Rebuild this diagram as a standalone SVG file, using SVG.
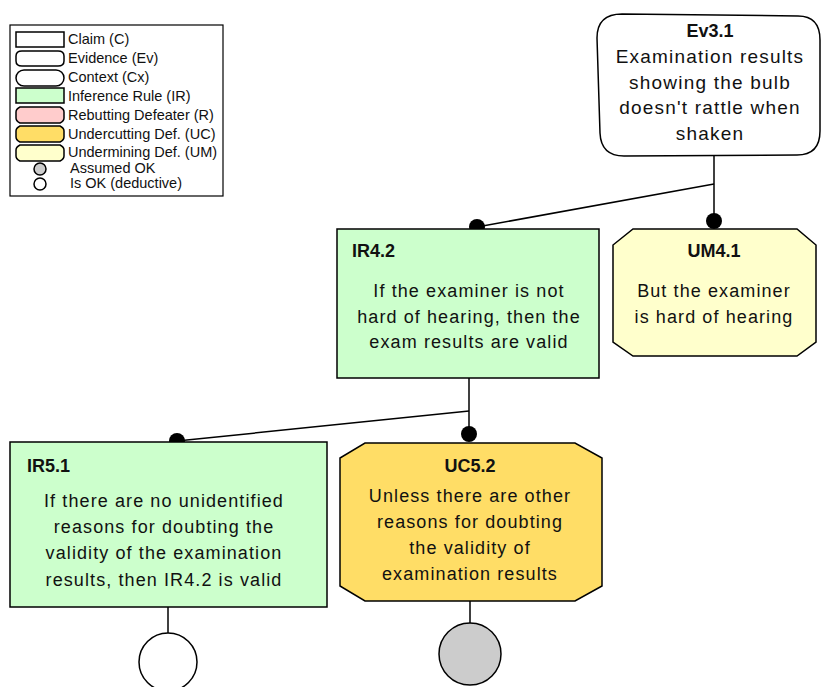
<svg xmlns="http://www.w3.org/2000/svg" width="821" height="687" viewBox="0 0 821 687">
<style>
.n{stroke:#000;stroke-width:1.5}
.ir{fill:#ccffcc}
.um{fill:#ffffcc}
.uc{fill:#ffdd66}
.rb{fill:#ffcccc}
.w{fill:#fff}
.g{fill:#cccccc}
.t{font-family:"Liberation Sans",Arial,sans-serif;font-size:18px;fill:#111;letter-spacing:1.1px}
.te{font-family:"Liberation Sans",Arial,sans-serif;font-size:19px;fill:#111;letter-spacing:1.2px}
.b{font-family:"Liberation Sans",Arial,sans-serif;font-size:18px;font-weight:bold;fill:#111}
.lg{font-family:"Liberation Sans",Arial,sans-serif;font-size:14.5px;fill:#111}
.c{stroke:#000;stroke-width:1.5;fill:none}
.dot{fill:#000}
</style>
<g id="legend">
<rect x="10" y="25" width="213" height="171" fill="#fff" stroke="#000" stroke-width="1.2"/>
<rect class="n w" x="16" y="32" width="48" height="15" stroke-width="1"/>
<path class="n w" stroke-width="1" d="M22,51 L58,51 Q64,51 64,56 L64,61 Q64,66 58,66 L22,66 Q16,66 16,61 L16,56 Q16,51 22,51 Z"/>
<rect class="n w" x="16" y="70" width="48" height="16" rx="8" ry="8" stroke-width="1"/>
<rect class="n ir" x="16" y="88" width="48" height="15" stroke-width="1"/>
<path class="n rb" stroke-width="1" d="M20,107 L60,107 Q64,109 64,112 L64,118 Q64,121 60,123 L20,123 Q16,121 16,118 L16,112 Q16,109 20,107 Z"/>
<path class="n uc" stroke-width="1" d="M20,126 L60,126 Q64,128 64,131 L64,137 Q64,140 60,142 L20,142 Q16,140 16,137 L16,131 Q16,128 20,126 Z"/>
<path class="n um" stroke-width="1" d="M20,145 L60,145 Q64,147 64,150 L64,156 Q64,159 60,161 L20,161 Q16,159 16,156 L16,150 Q16,147 20,145 Z"/>
<circle class="n g" cx="40" cy="169" r="6" stroke-width="1"/>
<circle class="n w" cx="40" cy="184" r="6" stroke-width="1"/>
<text class="lg" x="68" y="44">Claim (C)</text>
<text class="lg" x="68" y="63">Evidence (Ev)</text>
<text class="lg" x="68" y="82">Context (Cx)</text>
<text class="lg" x="68" y="101">Inference Rule (IR)</text>
<text class="lg" x="68" y="120">Rebutting Defeater (R)</text>
<text class="lg" x="68" y="139">Undercutting Def. (UC)</text>
<text class="lg" x="68" y="157">Undermining Def. (UM)</text>
<text class="lg" x="70" y="173">Assumed OK</text>
<text class="lg" x="70" y="188">Is OK (deductive)</text>
</g>
<g id="connectors">
<line class="c" x1="714" y1="156" x2="714" y2="221"/>
<line class="c" x1="714" y1="184" x2="477" y2="227"/>
<line class="c" x1="469" y1="378" x2="469" y2="434"/>
<line class="c" x1="469" y1="411" x2="177" y2="441"/>
<line class="c" x1="168" y1="607" x2="168" y2="633"/>
<line class="c" x1="470" y1="601" x2="470" y2="623"/>
<circle class="dot" cx="714" cy="221" r="8"/>
<circle class="dot" cx="477" cy="227" r="8"/>
<circle class="dot" cx="469" cy="434" r="8"/>
<circle class="dot" cx="177" cy="441" r="8"/>
</g>
<g id="Ev3.1">
<path class="n w" d="M622,14 L798,16 Q820,16 820,40 L820,131 Q820,155 797,155 L624,156 Q601,156 600,133 L597,38 Q597,14 622,14 Z"/>
<text class="b" x="710" y="37" text-anchor="middle">Ev3.1</text>
<text class="te" x="710" y="63" text-anchor="middle">Examination results</text>
<text class="te" x="710" y="89" text-anchor="middle">showing the bulb</text>
<text class="te" x="710" y="114" text-anchor="middle">doesn't rattle when</text>
<text class="te" x="710" y="140" text-anchor="middle">shaken</text>
</g>
<g id="IR4.2">
<rect class="n ir" x="337" y="229" width="262" height="149"/>
<text class="b" x="352" y="257">IR4.2</text>
<text class="t" x="469" y="297" text-anchor="middle">If the examiner is not</text>
<text class="t" x="469" y="323" text-anchor="middle">hard of hearing, then the</text>
<text class="t" x="469" y="348" text-anchor="middle">exam results are valid</text>
</g>
<g id="UM4.1">
<path class="n um" d="M633,229 L797,229 L816,245 L816,342 L797,356 L633,356 L613,342 L613,245 Z"/>
<text class="b" x="714" y="257" text-anchor="middle">UM4.1</text>
<text class="t" x="714" y="297" text-anchor="middle">But the examiner</text>
<text class="t" x="714" y="323" text-anchor="middle">is hard of hearing</text>
</g>
<g id="IR5.1">
<rect class="n ir" x="10" y="442" width="317" height="165"/>
<text class="b" x="27" y="472">IR5.1</text>
<text class="t" x="164" y="507" text-anchor="middle">If there are no unidentified</text>
<text class="t" x="164" y="533" text-anchor="middle">reasons for doubting the</text>
<text class="t" x="164" y="559" text-anchor="middle">validity of the examination</text>
<text class="t" x="164" y="586" text-anchor="middle">results, then IR4.2 is valid</text>
</g>
<g id="UC5.2">
<path class="n uc" d="M365,443 L575,443 L602,458 L602,586 L575,601 L365,601 L340,586 L340,458 Z"/>
<text class="b" x="470" y="472" text-anchor="middle">UC5.2</text>
<text class="t" x="470" y="502" text-anchor="middle">Unless there are other</text>
<text class="t" x="470" y="528" text-anchor="middle">reasons for doubting</text>
<text class="t" x="470" y="554" text-anchor="middle">the validity of</text>
<text class="t" x="470" y="580" text-anchor="middle">examination results</text>
</g>
<g id="okIR5.1">
<circle class="n w" cx="168" cy="662" r="29"/>
</g>
<g id="okUC5.2">
<circle class="n g" cx="470" cy="654" r="31"/>
</g>
</svg>
